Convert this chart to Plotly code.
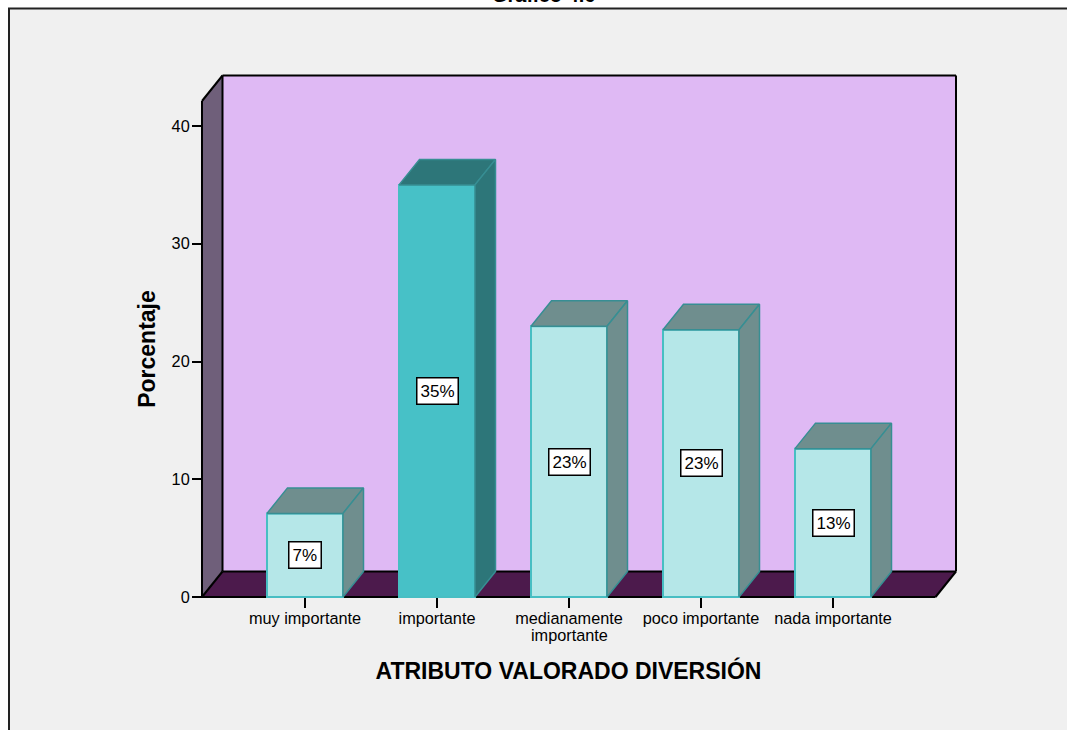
import plotly.graph_objects as go

# Survey results: share of respondents per rating of the "diversión" attribute
categories = ["muy importante", "importante", "medianamente", "poco importante", "nada importante"]
continuation_lines = ["", "", "importante", "", ""]
percentages = [7.1, 35.0, 23.0, 22.7, 12.6]
highlighted = [False, True, False, False, False]
y_ticks = [0, 10, 20, 30, 40]

WIDTH, HEIGHT = 1067, 730
FONT = "Liberation Sans, Arial, sans-serif"

# Pixel scale of the value and category axes
PX_PER_CATEGORY = 132.0
PX_PER_UNIT = 11.775
ORIGIN_X, ORIGIN_Y = 305.0, 597.0   # pixel of category 0 and of value 0
LEFT, RIGHT, TOP, BOTTOM = 175, 962, 69, 629   # plot area in pixels

BAR_WIDTH = 76 / PX_PER_CATEGORY
DEPTH_X = 20.5 / PX_PER_CATEGORY
DEPTH_Y = 25.5 / PX_PER_UNIT
FLOOR_LEFT = (202 - ORIGIN_X) / PX_PER_CATEGORY
FLOOR_RIGHT = (935.5 - ORIGIN_X) / PX_PER_CATEGORY
WALL_TOP = (597 - 101) / PX_PER_UNIT


def paper_x(px):
    return (px - LEFT) / (RIGHT - LEFT)


def paper_y(px):
    return (BOTTOM - px) / (BOTTOM - TOP)


def polygon(points, fill, line_color=None, line_width=0):
    return dict(
        type="path",
        xref="x",
        yref="y",
        layer="below",
        path="M" + "L".join(f"{x:.4f},{y:.4f}" for x, y in points) + "Z",
        fillcolor=fill,
        line=dict(color=line_color or fill, width=line_width),
    )


def segment(x0, y0, x1, y1):
    return dict(type="line", xref="x", yref="y", layer="below",
                x0=x0, y0=y0, x1=x1, y1=y1, line=dict(color="#000000", width=2))


# Outer panel, with the page showing white above it and to its left
panel = dict(type="rect", xref="paper", yref="paper", layer="below",
             x0=paper_x(9), x1=paper_x(1100), y0=paper_y(8.5), y1=paper_y(760),
             fillcolor="#F0F0F0", line=dict(color="#222222", width=2))

bx0, bx1 = FLOOR_LEFT + DEPTH_X, FLOOR_RIGHT + DEPTH_X
by0, by1 = DEPTH_Y, WALL_TOP + DEPTH_Y

shapes = [
    panel,
    polygon([(bx0, by0), (bx1, by0), (bx1, by1), (bx0, by1)], "#DFB9F4"),
    polygon([(FLOOR_LEFT, 0), (FLOOR_LEFT, WALL_TOP), (bx0, by1), (bx0, by0)], "#6F5F7A"),
    polygon([(FLOOR_LEFT, 0), (FLOOR_RIGHT, 0), (bx1, by0), (bx0, by0)], "#4C1A4C"),
    segment(bx0, by1, bx1, by1),
    segment(bx1, by0, bx1, by1),
    segment(bx0, by0, bx0, by1),
    segment(bx0, by0, bx1, by0),
    segment(FLOOR_LEFT, 0, FLOOR_LEFT, WALL_TOP),
    segment(FLOOR_LEFT, 0, FLOOR_RIGHT, 0),
    segment(FLOOR_RIGHT, 0, bx1, by0),
    segment(FLOOR_LEFT, 0, bx0, by0),
    segment(FLOOR_LEFT, WALL_TOP, bx0, by1),
]

positions = list(range(len(categories)))
front_colors = ["#47C1C7" if h else "#B5E7E8" for h in highlighted]

fig = go.Figure()
fig.add_trace(go.Bar(
    x=positions,
    y=percentages,
    width=BAR_WIDTH,
    marker=dict(color=front_colors, line=dict(color="#47BEC3", width=2)),
    cliponaxis=False,
    hoverinfo="skip",
))

# Top and side faces give each bar its depth
for pos, value, hl in zip(positions, percentages, highlighted):
    left, right = pos - BAR_WIDTH / 2, pos + BAR_WIDTH / 2
    face = "#2D7679" if hl else "#6F8E8E"
    top = [(left, value), (right, value), (right + DEPTH_X, value + DEPTH_Y),
           (left + DEPTH_X, value + DEPTH_Y), (left, value)]
    side = [(right, 0), (right + DEPTH_X, DEPTH_Y), (right + DEPTH_X, value + DEPTH_Y),
            (right, value), (right, 0)]
    for pts in (top, side):
        fig.add_trace(go.Scatter(
            x=[p[0] for p in pts],
            y=[p[1] for p in pts],
            mode="lines",
            fill="toself",
            fillcolor=face,
            line=dict(color="#378E93", width=1.5),
            cliponaxis=False,
            hoverinfo="skip",
        ))

annotations = []
# Value boxes sit halfway up each bar
for pos, value in zip(positions, percentages):
    annotations.append(dict(
        x=pos, y=value / 2, xref="x", yref="y",
        text=f"{round(value)}%", showarrow=False,
        font=dict(family=FONT, size=17, color="#000000"),
        bgcolor="#FFFFFF", bordercolor="#000000", borderwidth=1.5, borderpad=3,
    ))

# Second line of wrapped category names
for pos, line in zip(positions, continuation_lines):
    if line:
        annotations.append(dict(
            x=pos, y=paper_y(634.5), xref="x", yref="paper",
            yanchor="middle",
            text=line, showarrow=False,
            font=dict(family=FONT, size=16.3, color="#000000"),
        ))

# Chart heading, running off the top of the page
annotations.append(dict(
    x=paper_x(543.5), y=paper_y(8), xref="paper", yref="paper",
    xanchor="center", yanchor="bottom", text="Gráfico 4.6", showarrow=False,
    font=dict(family=FONT, size=20, color="#000000", weight="bold"),
))

fig.update_layout(
    width=WIDTH,
    height=HEIGHT,
    autosize=False,
    margin=dict(l=LEFT, r=WIDTH - RIGHT, t=TOP, b=HEIGHT - BOTTOM, pad=0),
    paper_bgcolor="#FFFFFF",
    plot_bgcolor="rgba(0,0,0,0)",
    showlegend=False,
    barmode="overlay",
    shapes=shapes,
    annotations=annotations,
    xaxis=dict(
        range=[(LEFT - ORIGIN_X) / PX_PER_CATEGORY, (RIGHT - ORIGIN_X) / PX_PER_CATEGORY],
        tickmode="array",
        tickvals=positions,
        ticktext=categories,
        ticks="outside",
        ticklen=10,
        tickwidth=2,
        tickcolor="#000000",
        ticklabelstandoff=-4,
        tickfont=dict(family=FONT, size=16.3, color="#000000"),
        showgrid=False,
        zeroline=False,
        showline=False,
        anchor="free",
        position=paper_y(597),
        title=dict(
            text="ATRIBUTO VALORADO DIVERSIÓN",
            font=dict(family=FONT, size=23, color="#000000", weight="bold"),
            standoff=37,
        ),
    ),
    yaxis=dict(
        range=[(ORIGIN_Y - BOTTOM) / PX_PER_UNIT, (ORIGIN_Y - TOP) / PX_PER_UNIT],
        tickmode="array",
        tickvals=y_ticks,
        ticks="outside",
        ticklen=10,
        tickwidth=2,
        tickcolor="#000000",
        ticklabelstandoff=-1,
        tickfont=dict(family=FONT, size=16.3, color="#000000"),
        showgrid=False,
        zeroline=False,
        showline=False,
        anchor="free",
        position=paper_x(202),
        title=dict(
            text="Porcentaje",
            font=dict(family=FONT, size=23, color="#000000", weight="bold"),
            standoff=8,
        ),
    ),
)

fig.write_html("out.html", config=dict(displayModeBar=False))
